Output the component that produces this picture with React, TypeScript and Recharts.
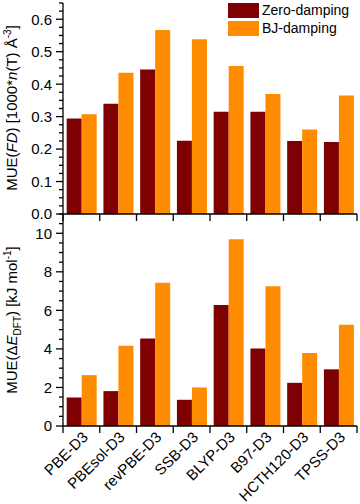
import React from 'react';
import { BarChart, Bar, XAxis, YAxis, Legend } from 'recharts';

const FONT = 'Arial, "Liberation Sans", Helvetica, sans-serif';

const categories = ['PBE-D3', 'PBEsol-D3', 'revPBE-D3', 'SSB-D3', 'BLYP-D3', 'B97-D3', 'HCTH120-D3', 'TPSS-D3'];
const fdZero = [0.294, 0.340, 0.445, 0.226, 0.315, 0.315, 0.225, 0.222];
const fdBJ = [0.307, 0.435, 0.567, 0.538, 0.456, 0.370, 0.260, 0.365];
const eZero = [1.48, 1.81, 4.54, 1.36, 6.28, 4.02, 2.24, 2.94];
const eBJ = [2.64, 4.16, 7.43, 2.0, 9.69, 7.25, 3.79, 5.25];

const fdMajorTicks = [0, 0.1, 0.2, 0.3, 0.4, 0.5, 0.6];
const fdMinorTicks = [0.025, 0.05, 0.075, 0.125, 0.15, 0.175, 0.225, 0.25, 0.275, 0.325, 0.35, 0.375, 0.425, 0.45, 0.475, 0.525, 0.55, 0.575, 0.625, 0.65];
const eMajorTicks = [0, 2, 4, 6, 8, 10];
const eMinorTicks = [0.5, 1, 1.5, 2.5, 3, 3.5, 4.5, 5, 5.5, 6.5, 7, 7.5, 8.5, 9, 9.5, 10.5, 11];

const seriesNames = ['Zero-damping', 'BJ-damping'];
const colors = ['#7f0000', '#ff8c00'];

const fdData = categories.map((name, i) => ({ name, zero: fdZero[i], bj: fdBJ[i] }));
const eData = categories.map((name, i) => ({ name, zero: eZero[i], bj: eBJ[i] }));

const W = 360;
const LEFT = 63;
const RIGHT = 3;
const BAND = (W - LEFT - RIGHT) / categories.length;

const isIn = (arr: number[], v: number) => arr.some((a) => Math.abs(a - v) < 1e-9);

const makeYTick = (majors: number[], fmt: (v: number) => string) => (props: any) => {
  const { x, y, payload } = props;
  const v = payload.value;
  const major = isIn(majors, v);
  return (
    <g>
      <line x1={x - (major ? 7 : 4)} x2={x} y1={y} y2={y} stroke="#000" strokeWidth={1.3} />
      {major && (
        <text x={x - 11} y={y} dy="0.36em" textAnchor="end" fontSize={15} fontFamily={FONT} fill="#000">
          {fmt(v)}
        </text>
      )}
    </g>
  );
};

const makeXTick = (withLabel: boolean) => (props: any) => {
  const { x, y, payload, index } = props;
  const right = x + BAND / 2;
  const left = x - BAND / 2;
  return (
    <g>
      <line x1={right} x2={right} y1={y} y2={y + 7} stroke="#000" strokeWidth={1.3} />
      {index === 0 && <line x1={left} x2={left} y1={y} y2={y + 7} stroke="#000" strokeWidth={1.3} />}
      {withLabel && (
        <text
          x={x + 7.5}
          y={y + 12}
          transform={`rotate(-45, ${x + 7.5}, ${y + 12})`}
          textAnchor="end"
          fontSize={15}
          fontFamily={FONT}
          fill="#000"
        >
          {payload.value}
        </text>
      )}
    </g>
  );
};

const TopYLabel = () => (
  <text x={17} y={108} transform="rotate(-90, 17, 108)" textAnchor="middle" fontSize={15} fontFamily={FONT} fill="#000">
    <tspan>MUE(</tspan>
    <tspan fontStyle="italic">FD</tspan>
    <tspan>) [1000*</tspan>
    <tspan fontStyle="italic">n</tspan>
    <tspan>(T) Å</tspan>
    <tspan dy={-6} fontSize={10}>-3</tspan>
    <tspan dy={6}>]</tspan>
  </text>
);

const BottomYLabel = () => (
  <text x={17} y={320 - 212} transform={`rotate(-90, 17, ${320 - 212})`} textAnchor="middle" fontSize={15} fontFamily={FONT} fill="#000">
    <tspan>MUE(Δ</tspan>
    <tspan fontStyle="italic">E</tspan>
    <tspan dy={4} fontSize={10}>DFT</tspan>
    <tspan dy={-4}>) [kJ mol</tspan>
    <tspan dy={-6} fontSize={10}>-1</tspan>
    <tspan dy={6}>]</tspan>
  </text>
);

const renderLegend = (props: any) => {
  const payload = [...(props.payload || [])].sort(
    (a: any, b: any) => seriesNames.indexOf(a.value) - seriesNames.indexOf(b.value)
  );
  return (
    <div style={{ fontFamily: FONT, fontSize: 14, lineHeight: '15px' }}>
      {payload.map((p: any, i: number) => (
        <div key={i} style={{ display: 'flex', alignItems: 'center', height: 18 }}>
          <span style={{ display: 'inline-block', width: 31, height: 15, background: p.color }} />
          <span style={{ marginLeft: 3, color: '#000' }}>{p.value}</span>
        </div>
      ))}
    </div>
  );
};

export default function App() {
  return (
    <div style={{ position: 'absolute', left: 0, top: 0, width: W, height: 504, background: '#fff' }}>
      <div style={{ position: 'absolute', left: 0, top: 212 }}>
        <BarChart width={W} height={292} data={eData} margin={{ top: 2, right: RIGHT, left: 0, bottom: 0 }} barCategoryGap="10%" barGap={0}>
          <XAxis
            dataKey="name"
            interval={0}
            tickSize={0}
            tickMargin={0}
            tickLine={false}
            height={78}
            axisLine={{ stroke: '#000', strokeWidth: 1.3 }}
            tick={makeXTick(true)}
          />
          <YAxis
            type="number"
            domain={[0, 11]}
            ticks={[...eMajorTicks, ...eMinorTicks].sort((a, b) => a - b)}
            interval={0}
            width={LEFT}
            tickSize={0}
            tickMargin={0}
            tickLine={false}
            axisLine={{ stroke: '#000', strokeWidth: 1.3 }}
            tick={makeYTick(eMajorTicks, (v) => String(v))}
            label={() => <BottomYLabel />}
          />
          <Bar dataKey="zero" name={seriesNames[0]} fill={colors[0]} isAnimationActive={false} />
          <Bar dataKey="bj" name={seriesNames[1]} fill={colors[1]} isAnimationActive={false} />
        </BarChart>
      </div>
      <div style={{ position: 'absolute', left: 0, top: 0 }}>
        <BarChart width={W} height={222} data={fdData} margin={{ top: 3, right: RIGHT, left: 0, bottom: 0 }} barCategoryGap="10%" barGap={0}>
          <XAxis
            dataKey="name"
            interval={0}
            tickSize={0}
            tickMargin={0}
            tickLine={false}
            height={8}
            axisLine={{ stroke: '#000', strokeWidth: 1.3 }}
            tick={makeXTick(false)}
          />
          <YAxis
            type="number"
            domain={[0, 0.65]}
            ticks={[...fdMajorTicks, ...fdMinorTicks].sort((a, b) => a - b)}
            interval={0}
            width={LEFT}
            tickSize={0}
            tickMargin={0}
            tickLine={false}
            axisLine={{ stroke: '#000', strokeWidth: 1.3 }}
            tick={makeYTick(fdMajorTicks, (v) => v.toFixed(1))}
            label={() => <TopYLabel />}
          />
          <Legend
            layout="vertical"
            align="center"
            verticalAlign="middle"
            content={renderLegend}
            wrapperStyle={{ top: 1, left: 228, width: 130, height: 36 }}
          />
          <Bar dataKey="zero" name={seriesNames[0]} fill={colors[0]} isAnimationActive={false} />
          <Bar dataKey="bj" name={seriesNames[1]} fill={colors[1]} isAnimationActive={false} />
        </BarChart>
      </div>
    </div>
  );
}
